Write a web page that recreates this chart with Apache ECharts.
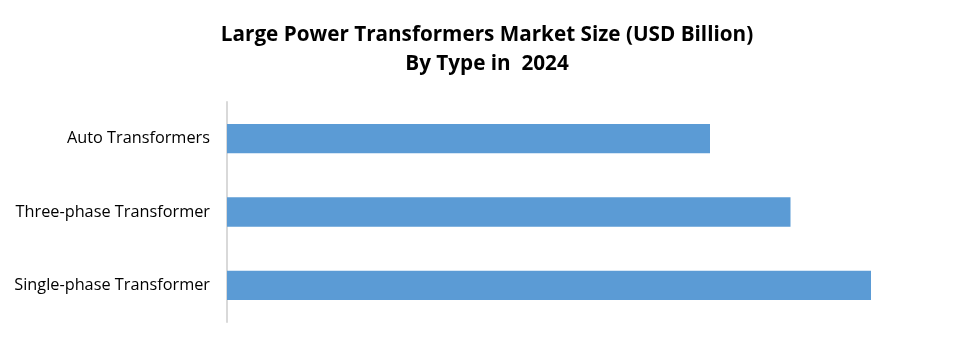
<!DOCTYPE html>
<html><head><meta charset="utf-8">
<script src="https://cdn.jsdelivr.net/npm/echarts@6/dist/echarts.min.js"></script>
<style>html,body{margin:0;padding:0;background:#fff}#c{width:974px;height:344px}</style>
</head><body><div id="c"></div>
<script>
const categories = ["Single-phase Transformer", "Three-phase Transformer", "Auto Transformers"];
const values = [4.0, 3.5, 3.0];
const titleLines = ["Large Power Transformers Market Size (USD Billion)", "By Type in  2024"];

const chart = echarts.init(document.getElementById('c'));
chart.setOption({
  animation: false,
  title: {
    text: titleLines.join('\n'),
    left: 'center', top: 16,
    textStyle: {fontFamily: 'Open Sans', fontWeight: 'bold', fontSize: 20.7, lineHeight: 29, color: '#000'}
  },
  grid: {left: 227, right: 22.5, top: 102, bottom: 22, containLabel: false},
  xAxis: {type: 'value', min: 0, max: 4.5, show: false},
  yAxis: {
    type: 'category', data: categories,
    axisLine: {show: true, lineStyle: {color: '#d9d9d9', width: 2}},
    axisTick: {show: false},
    axisLabel: {fontFamily: 'Open Sans', fontSize: 16.3, color: '#000', margin: 17}
  },
  series: [{
    type: 'bar', data: values, barCategoryGap: '60%',
    itemStyle: {color: '#5b9bd5'}
  }]
});
</script></body></html>
